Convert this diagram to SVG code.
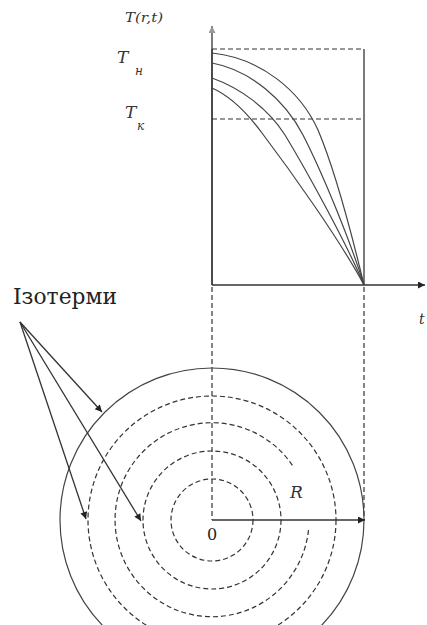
<svg xmlns="http://www.w3.org/2000/svg" width="427" height="625" viewBox="0 0 427 625">
<defs>
<marker id="ah" viewBox="0 0 10 10" refX="10" refY="5" markerWidth="11" markerHeight="7" markerUnits="userSpaceOnUse" orient="auto"><path d="M0,0 L10,5 L0,10 z" fill="#222"/></marker>
<marker id="ahg" viewBox="0 0 10 10" refX="10" refY="5" markerWidth="9" markerHeight="7" markerUnits="userSpaceOnUse" orient="auto"><path d="M0,0 L10,5 L0,10 z" fill="#999"/></marker>
</defs>
<style>
.s{fill:none;stroke:#333;stroke-width:1.3}
.d{fill:none;stroke:#333;stroke-width:1.2;stroke-dasharray:5 3}
.c{fill:none;stroke:#444;stroke-width:1.2}
text{font-family:"DejaVu Serif",serif}
.it{font-style:italic;fill:#333}
.rm{fill:#222}
</style>
<g id="graph">
<line class="s" x1="212" y1="285" x2="212" y2="26" stroke="#999" marker-end="url(#ahg)"/>
<line class="s" x1="212" y1="285" x2="212" y2="49"/>
<line class="s" x1="212" y1="285" x2="425" y2="285" marker-end="url(#ah)"/>
<line class="s" x1="364" y1="49" x2="364" y2="285"/>
<line class="d" x1="212" y1="49" x2="364" y2="49"/>
<line class="d" x1="212" y1="119" x2="364" y2="119"/>
<path class="c" d="M212,53 C260,58 300,90 318,130 C335,170 352,235 364,285"/>
<path class="c" d="M212,63 C250,70 285,100 303,135 C322,172 350,240 364,285"/>
<path class="c" d="M212,78 C240,88 268,108 285,135 C305,168 345,240 364,285"/>
<path class="c" d="M212,88 C228,95 245,110 262,133 C290,170 340,240 364,285"/>
<text class="it" x="125" y="22" font-size="12" textLength="38" lengthAdjust="spacingAndGlyphs">T(r,t)</text>
<text class="it" x="117" y="63" font-size="17">T</text>
<text class="it" x="135" y="75" font-size="12">н</text>
<text class="it" x="125" y="118" font-size="17">T</text>
<text class="it" x="137" y="130" font-size="12">к</text>
<text class="it" x="419" y="324" font-size="14">t</text>
</g>
<g id="projections">
<line class="d" x1="212" y1="287" x2="212" y2="520"/>
<line class="d" x1="364" y1="287" x2="364" y2="520"/>
</g>
<g id="circles">
<circle class="c" cx="212" cy="520" r="152"/>
<circle class="d" cx="212" cy="520" r="124"/>
<path class="d" d="M308.5,530.1 A97,97 0 1 1 293.6,467.2"/>
<circle class="d" cx="212" cy="520" r="69"/>
<circle class="d" cx="212" cy="520" r="41"/>
<line class="s" x1="212" y1="520" x2="365" y2="520" marker-end="url(#ah)"/>
<text class="rm" x="212" y="540" font-size="16" text-anchor="middle">0</text>
<text class="it" x="290" y="498" font-size="17">R</text>
</g>
<g id="isotherms">
<text class="rm" x="13" y="304" font-size="23" textLength="104" lengthAdjust="spacingAndGlyphs">Ізотерми</text>
<line class="s" x1="20" y1="322" x2="102" y2="412" marker-end="url(#ah)"/>
<line class="s" x1="20" y1="322" x2="86" y2="519" marker-end="url(#ah)"/>
<line class="s" x1="20" y1="322" x2="141" y2="521" marker-end="url(#ah)"/>
</g>
</svg>
